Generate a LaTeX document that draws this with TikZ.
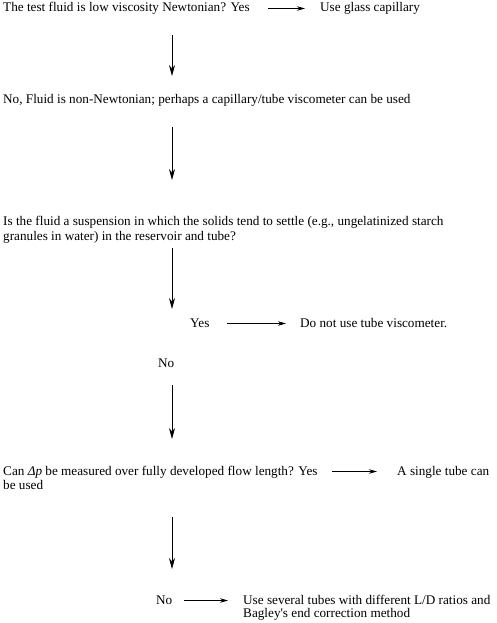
\documentclass[tikz,border=0pt]{standalone}
\usepackage{fontspec}
\setmainfont{Liberation Serif}
\usetikzlibrary{arrows.meta}

\tikzset{
	txt/.style={anchor=base west, inner sep=0pt, font=\fontsize{13.2}{15}\selectfont, text height=9pt, text depth=2pt},
	hto/.style={-{Stealth[length=8pt,width=4.5pt]}, line width=0.7pt},
	vto/.style={-{Stealth[length=11pt,width=6pt]}, line width=0.7pt},
}

\begin{document}
\begin{tikzpicture}[x=1pt, y=-1pt]
	\useasboundingbox (0,0) rectangle (496,623);
	%\draw[help lines] (0,0) grid[step=50] (496,623);
	\node[txt] (q1) at (3,12) {The test fluid is low viscosity Newtonian? Yes};
	\node[txt] (a1) at (320,12) {Use glass capillary};
	\node[txt] (q2) at (3,104) {No, Fluid is non-Newtonian; perhaps a capillary/tube viscometer can be used};
	\node[txt] (q3) at (3,225) {Is the fluid a suspension in which the solids tend to settle (e.g., ungelatinized starch};
	\node[txt] (q3b) at (3,240) {granules in water) in the reservoir and tube?};
	\node[txt] (y3) at (190,327) {Yes};
	\node[txt] (a3) at (300,327) {Do not use tube viscometer.};
	\node[txt] (n3) at (158,367) {No};
	\node[txt] (q4) at (3,475) {Can \textit{Δp} be measured over fully developed flow length? Yes};
	\node[txt] (a4) at (397,475) {A single tube can};
	\node[txt] (a4b) at (3,489) {be used};
	\node[txt] (n5) at (156,604) {No};
	\node[txt] (a5) at (243,604) {Use several tubes with different L/D ratios and};
	\node[txt] (a5b) at (243,617) {Bagley\textquotesingle s end correction method};

	% vertical arrows
	\coordinate (v1a) at (172,35);  \coordinate (v1b) at (172,76);
	\coordinate (v2a) at (172,127); \coordinate (v2b) at (172,180);
	\coordinate (v3a) at (172,248); \coordinate (v3b) at (172,309);
	\coordinate (v4a) at (172,385); \coordinate (v4b) at (172,439);
	\coordinate (v5a) at (172,517); \coordinate (v5b) at (172,569);
	\draw[vto] (v1a) -- (v1b);
	\draw[vto] (v2a) -- (v2b);
	\draw[vto] (v3a) -- (v3b);
	\draw[vto] (v4a) -- (v4b);
	\draw[vto] (v5a) -- (v5b);

	% yes/no arrows
	\draw[hto, shorten <=18pt, shorten >=15pt] (q1.east) -- (a1.west);
	\draw[hto, shorten <=17pt, shorten >=14pt] (y3.east) -- (a3.west);
	\draw[hto, shorten <=14pt, shorten >=20pt] (q4.east) -- (a4.west);
	\draw[hto, shorten <=11pt, shorten >=15pt] (n5.east) -- (a5.west);
\end{tikzpicture}
\end{document}
